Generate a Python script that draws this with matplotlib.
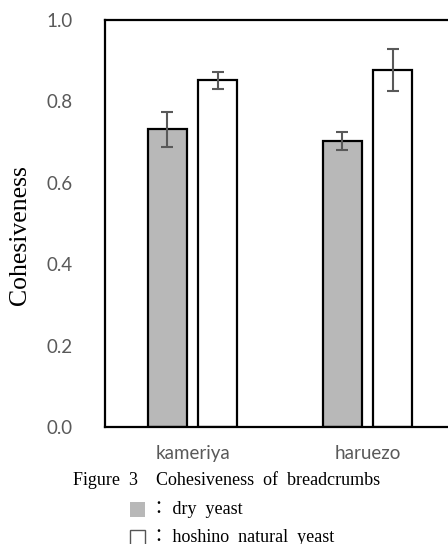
import numpy as np
import matplotlib.pyplot as plt
from matplotlib.patches import Rectangle

# 데이터
categories = ["kameriya", "haruezo"]
dry_yeast = [0.732, 0.703]
dry_err = [0.043, 0.022]
natural_yeast = [0.852, 0.877]
natural_err = [0.021, 0.051]

yticks = [0.0, 0.2, 0.4, 0.6, 0.8, 1.0]

W, H = 448, 544
fig = plt.figure(figsize=(W / 100, H / 100), dpi=100)

# 축 위치 (오른쪽은 그림 밖으로 잘림)
ax = fig.add_axes([105 / W, 117 / H, 350 / W, 407 / H])

x = np.arange(len(categories))
bw = 0.223
off = 0.143
gray = "#b8b8b8"
err_kw = dict(ecolor="#595959", elinewidth=1.5, capsize=4, capthick=1.5)

ax.bar(x - off, dry_yeast, bw, yerr=dry_err, color=gray, edgecolor="black",
       linewidth=1.6, error_kw=err_kw, zorder=2)
ax.bar(x + off, natural_yeast, bw, yerr=natural_err, color="white", edgecolor="black",
       linewidth=1.6, error_kw=err_kw, zorder=2)

ax.set_xlim(-0.5, 1.5)
ax.set_ylim(0, 1.0)
ax.set_yticks(yticks)
ax.set_yticklabels([f"{t:.1f}" for t in yticks])
ax.set_xticks(x)
ax.set_xticklabels(categories)
ax.tick_params(axis="both", length=0, labelsize=13.5, labelcolor="#595959")
ax.tick_params(axis="y", pad=23)
ax.tick_params(axis="x", pad=13)
for lab in ax.get_xticklabels() + ax.get_yticklabels():
    lab.set_fontfamily("Lato")

for sp in ax.spines.values():
    sp.set_linewidth(1.6)
    sp.set_color("black")

serif = ["Liberation Serif", "Noto Sans CJK JP"]

# y축 이름
fig.text(20 / W, 1 - 235 / H, "Cohesiveness", rotation=90, ha="center", va="center",
         fontsize=18.5, family=serif)

# 그림 캡션
fig.text(227 / W, 1 - 480 / H, "Figure  3\u3000Cohesiveness  of  breadcrumbs",
         ha="center", va="center", fontsize=13, family=serif)

# 범례
fig.patches.append(Rectangle((130 / W, 1 - 517 / H), 15 / W, 15 / H, transform=fig.transFigure,
                             facecolor=gray, edgecolor="none"))
fig.text(150 / W, 1 - 509 / H, "： dry  yeast", ha="left", va="center",
         fontsize=13, family=serif)
fig.patches.append(Rectangle((130 / W, 1 - 545 / H), 15 / W, 15 / H, transform=fig.transFigure,
                             facecolor="white", edgecolor="#555555", linewidth=1))
fig.text(150 / W, 1 - 537 / H, "： hoshino  natural  yeast", ha="left", va="center",
         fontsize=13, family=serif)

fig.savefig("out.png", dpi=100)
